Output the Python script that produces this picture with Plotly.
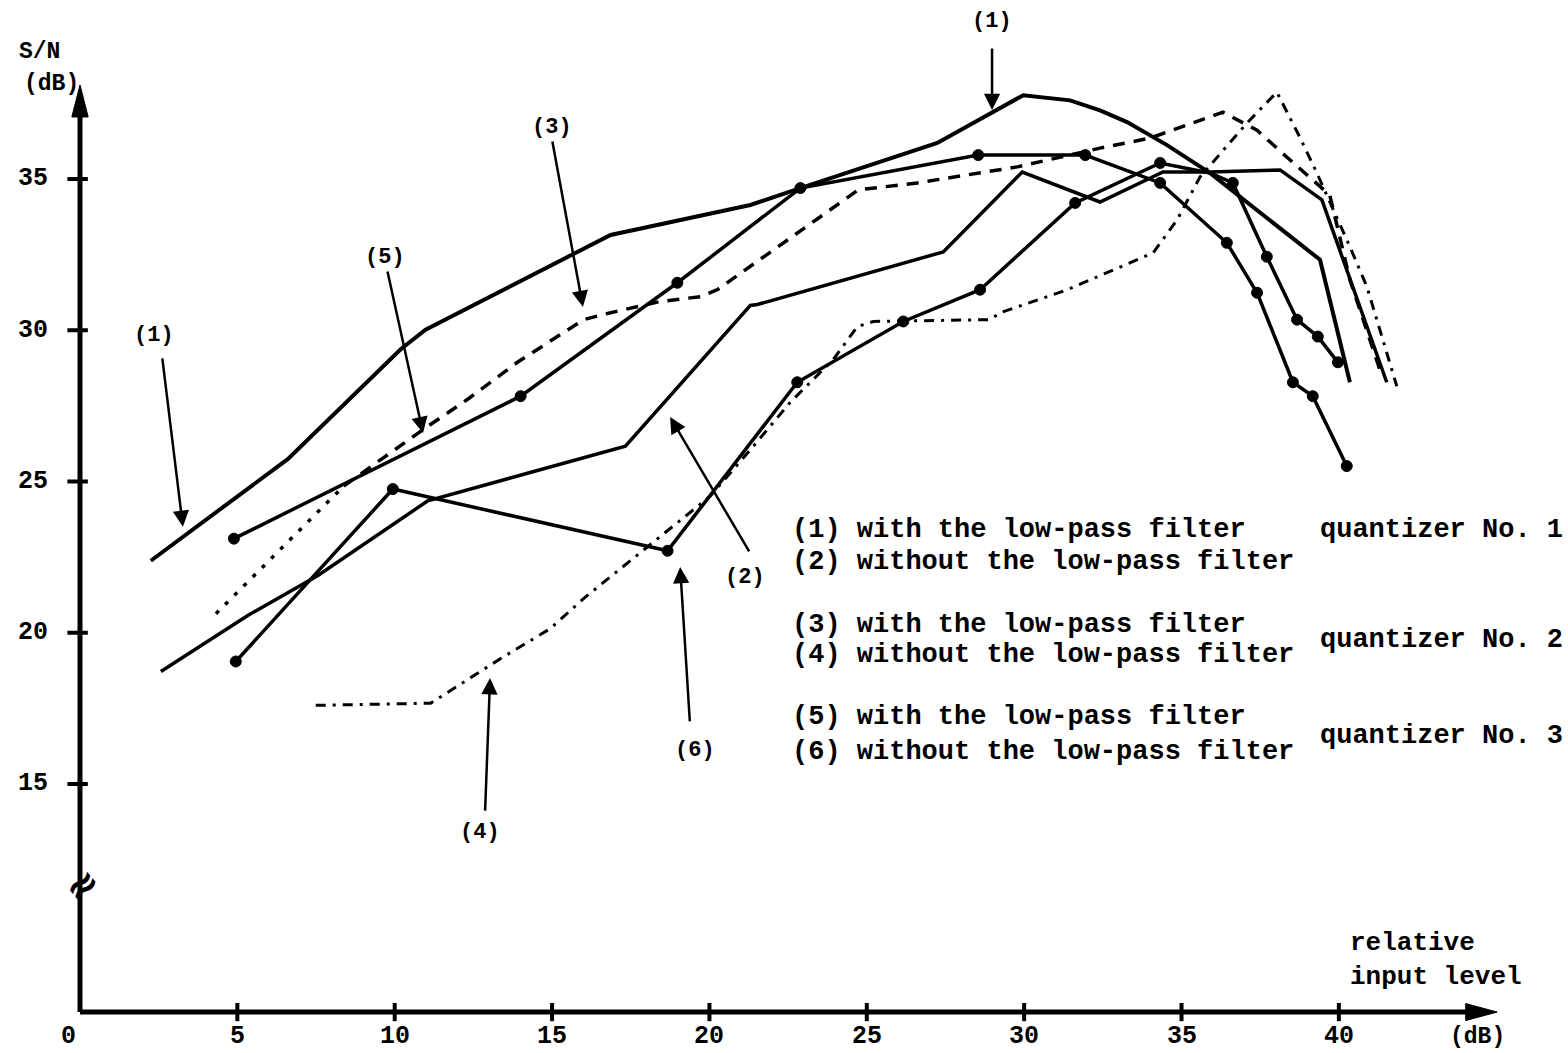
import plotly.graph_objects as go

# ---------------- data ----------------
c1_x = [2.25, 6.60, 10.19, 10.98, 16.86, 21.30, 22.89, 27.24, 29.97, 31.46, 32.41, 33.27, 34.54, 35.90, 39.40, 40.35]
c1_y = [22.38, 25.74, 29.37, 30.02, 33.15, 34.14, 34.70, 36.19, 37.77, 37.60, 37.27, 36.88, 36.12, 35.20, 32.33, 28.28]

c2_x = [2.57, 5.33, 7.56, 11.05, 17.33, 21.30, 21.52, 27.43, 29.94, 32.41, 34.41, 35.90, 38.13, 39.46, 41.52]
c2_y = [18.72, 20.57, 21.89, 24.36, 26.17, 30.82, 30.85, 32.59, 35.23, 34.24, 35.23, 35.23, 35.30, 34.31, 28.28]

c3_x = [4.32, 8.38, 10.92, 12.32, 13.90, 16.0, 16.86, 18.44, 19.71, 20.25, 22.79, 24.73, 26.60, 29.78,
        32.41, 34.0, 36.32, 37.40, 38.35, 39.17, 39.71, 40.35, 41.37]
c3_y = [20.63, 24.85, 26.73, 27.72, 28.94, 30.35, 30.58, 30.95, 31.11, 31.34, 33.22, 34.64, 34.87, 35.40,
        36.02, 36.35, 37.21, 36.61, 35.72, 34.97, 34.47, 31.67, 28.48]

c4_x = [7.49, 11.14, 13.37, 14.95, 16.0, 18.44, 20.03, 21.40, 22.57, 23.94, 24.70, 25.21, 28.92, 29.24,
        31.37, 34.10, 34.86, 35.59, 37.08, 38.03, 38.76, 39.30, 40.35, 40.89, 41.84]
c4_y = [17.60, 17.67, 19.15, 20.14, 21.13, 23.20, 24.52, 26.17, 27.62, 29.04, 30.12, 30.29, 30.35, 30.58,
        31.34, 32.56, 33.65, 35.07, 36.85, 37.87, 36.38, 35.20, 32.76, 31.44, 28.15]

c5_x = [4.89, 14.0, 18.98, 22.89, 28.54, 31.94, 34.32, 36.44, 37.40, 38.54, 39.17, 40.25]
c5_y = [23.11, 27.82, 31.57, 34.70, 35.79, 35.79, 34.87, 32.89, 31.24, 28.28, 27.82, 25.51]

c6_x = [4.95, 9.94, 18.67, 22.79, 26.16, 28.60, 31.62, 34.32, 35.90, 36.63, 37.71, 38.67, 39.33, 39.97]
c6_y = [19.05, 24.75, 22.71, 28.28, 30.29, 31.34, 34.21, 35.53, 35.20, 34.87, 32.43, 30.35, 29.79, 28.94]

x_ticks = [0, 5, 10, 15, 20, 25, 30, 35, 40]
y_ticks = [15, 20, 25, 30, 35]

legend_lines = [
    "(1) with the low-pass filter",
    "(2) without the low-pass filter",
    "(3) with the low-pass filter",
    "(4) without the low-pass filter",
    "(5) with the low-pass filter",
    "(6) without the low-pass filter",
]
legend_y = [23.40, 22.34, 20.26, 19.26, 17.21, 16.06]
quant_labels = ["quantizer No. 1", "quantizer No. 2", "quantizer No. 3"]
quant_y = [23.40, 19.76, 16.59]

# curve label: (text, label x, label y, arrow tail x, tail y, arrow tip x, tip y)
curve_labels = [
    ("(1)", 28.98, 40.19, 28.98, 39.36, 28.98, 37.28),
    ("(3)", 15.00, 36.69, 15.00, 36.29, 15.98, 30.77),
    ("(5)", 9.69, 32.42, 9.76, 31.99, 10.90, 26.60),
    ("(1)", 2.35, 29.81, 2.61, 29.12, 3.27, 23.50),
    ("(2)", 21.13, 21.84, 21.29, 22.64, 18.75, 27.13),
    ("(6)", 19.54, 16.12, 19.38, 17.02, 19.07, 22.17),
    ("(4)", 12.71, 13.41, 12.87, 14.07, 13.03, 18.50),
]

X_AXIS_Y = 7.46
Y_AXIS_TOP = 38.11
X_AXIS_END = 45.03

FONT = "Liberation Mono"
BLACK = "#000000"

fig = go.Figure()

def line_trace(x, y, width=3.5, dash="solid", marker=False, msize=None):
    fig.add_trace(go.Scatter(
        x=x, y=y, mode="lines+markers" if marker else "lines",
        line=dict(color=BLACK, width=width, dash=dash),
        marker=dict(color=BLACK, size=msize if msize is not None else 11, symbol="circle",
                    opacity=1, line=dict(color=BLACK, width=1)),
        hoverinfo="skip", showlegend=False, cliponaxis=False,
    ))

line_trace(c1_x, c1_y, width=4)
line_trace(c2_x, c2_y, width=3.5)
line_trace(c3_x[:2], c3_y[:2], width=3.5, dash="4px,9px")
line_trace(c3_x[1:], c3_y[1:], width=3.5, dash="12px,9px")
line_trace(c4_x, c4_y, width=3, dash="10px,7px,3px,7px")
line_trace(c5_x, c5_y, width=3.5, marker=True, msize=11)
c6_sizes = [11 if i != 8 else 0 for i in range(len(c6_x))]
line_trace(c6_x, c6_y, width=3.5, marker=True, msize=c6_sizes)

annotations = []
shapes = []

# axis lines
shapes.append(dict(type="line", xref="x", yref="y", x0=0, x1=0, y0=X_AXIS_Y, y1=Y_AXIS_TOP - 0.9,
                   line=dict(color=BLACK, width=5)))
shapes.append(dict(type="line", xref="x", yref="y", x0=0, x1=X_AXIS_END - 0.8, y0=X_AXIS_Y, y1=X_AXIS_Y,
                   line=dict(color=BLACK, width=5)))
# arrowheads (long, narrow triangles)
ya_base = Y_AXIS_TOP - 1.06
shapes.append(dict(type="path", xref="x", yref="y",
                   path=f"M {-0.26},{ya_base} L 0,{Y_AXIS_TOP} L {0.26},{ya_base} Z",
                   fillcolor=BLACK, line=dict(color=BLACK, width=1)))
xa_base = X_AXIS_END - 1.0
shapes.append(dict(type="path", xref="x", yref="y",
                   path=f"M {xa_base},{X_AXIS_Y - 0.28} L {X_AXIS_END},{X_AXIS_Y} L {xa_base},{X_AXIS_Y + 0.28} Z",
                   fillcolor=BLACK, line=dict(color=BLACK, width=1)))

# tick marks
for t in x_ticks[1:]:
    shapes.append(dict(type="line", xref="x", yref="y", x0=t, x1=t, y0=X_AXIS_Y - 0.30, y1=X_AXIS_Y + 0.30,
                       line=dict(color=BLACK, width=4)))
for t in y_ticks:
    shapes.append(dict(type="line", xref="x", yref="y", x0=-0.40, x1=0.25, y0=t, y1=t,
                       line=dict(color=BLACK, width=4)))

# tick labels
for t in x_ticks:
    annotations.append(dict(x=t if t != 0 else -0.38, y=6.64, xref="x", yref="y", text=str(t), showarrow=False,
                            font=dict(family=FONT, size=25, color=BLACK, weight="bold"),
                            xanchor="center", yanchor="middle"))
for t in y_ticks:
    annotations.append(dict(x=-0.95, y=t, xref="x", yref="y", text=str(t), showarrow=False,
                            font=dict(family=FONT, size=25, color=BLACK, weight="bold"),
                            xanchor="right", yanchor="middle"))

# axis titles
annotations.append(dict(x=-2.0, y=39.2, xref="x", yref="y", text="S/N", showarrow=False,
                        font=dict(family=FONT, size=23, color=BLACK, weight="bold"),
                        xanchor="left", yanchor="middle"))
annotations.append(dict(x=-1.84, y=38.14, xref="x", yref="y", text="(dB)", showarrow=False,
                        font=dict(family=FONT, size=23, color=BLACK, weight="bold"),
                        xanchor="left", yanchor="middle"))
annotations.append(dict(x=40.29, y=9.18, xref="x", yref="y", text="relative<br>input level", showarrow=False,
                        font=dict(family=FONT, size=26, color=BLACK, weight="bold"),
                        xanchor="left", yanchor="middle", align="left"))
annotations.append(dict(x=44.42, y=6.64, xref="x", yref="y", text="(dB)", showarrow=False,
                        font=dict(family=FONT, size=23, color=BLACK, weight="bold"),
                        xanchor="center", yanchor="middle"))

# axis break symbol
annotations.append(dict(x=0.06, y=11.66, xref="x", yref="y", text="≈", showarrow=False, textangle=-40,
                        font=dict(family="DejaVu Sans", size=40, color=BLACK, weight="bold"),
                        xanchor="center", yanchor="middle"))

# legend block
for txt, yy in zip(legend_lines, legend_y):
    annotations.append(dict(x=22.56, y=yy, xref="x", yref="y", text=txt, showarrow=False,
                            font=dict(family=FONT, size=27, color=BLACK, weight="bold"),
                            xanchor="left", yanchor="middle"))
for txt, yy in zip(quant_labels, quant_y):
    annotations.append(dict(x=39.34, y=yy, xref="x", yref="y", text=txt, showarrow=False,
                            font=dict(family=FONT, size=27, color=BLACK, weight="bold"),
                            xanchor="left", yanchor="middle"))

# curve labels with arrows
for txt, lx, ly, tx, ty, hx, hy in curve_labels:
    annotations.append(dict(x=lx, y=ly, xref="x", yref="y", text=txt, showarrow=False,
                            font=dict(family=FONT, size=22, color=BLACK, weight="bold"),
                            xanchor="center", yanchor="middle"))
    annotations.append(dict(x=hx, y=hy, ax=tx, ay=ty, xref="x", yref="y", axref="x", ayref="y",
                            text="", showarrow=True, arrowhead=2, arrowsize=1.3, arrowwidth=2.5,
                            arrowcolor=BLACK))

fig.update_layout(
    width=1568, height=1053,
    margin=dict(l=0, r=0, t=0, b=0),
    paper_bgcolor="white", plot_bgcolor="white",
    xaxis=dict(range=[-2.542, 47.28], visible=False, fixedrange=True),
    yaxis=dict(range=[6.107, 40.917], visible=False, fixedrange=True),
    annotations=annotations, shapes=shapes,
    showlegend=False,
)

fig.write_html("out.html")
